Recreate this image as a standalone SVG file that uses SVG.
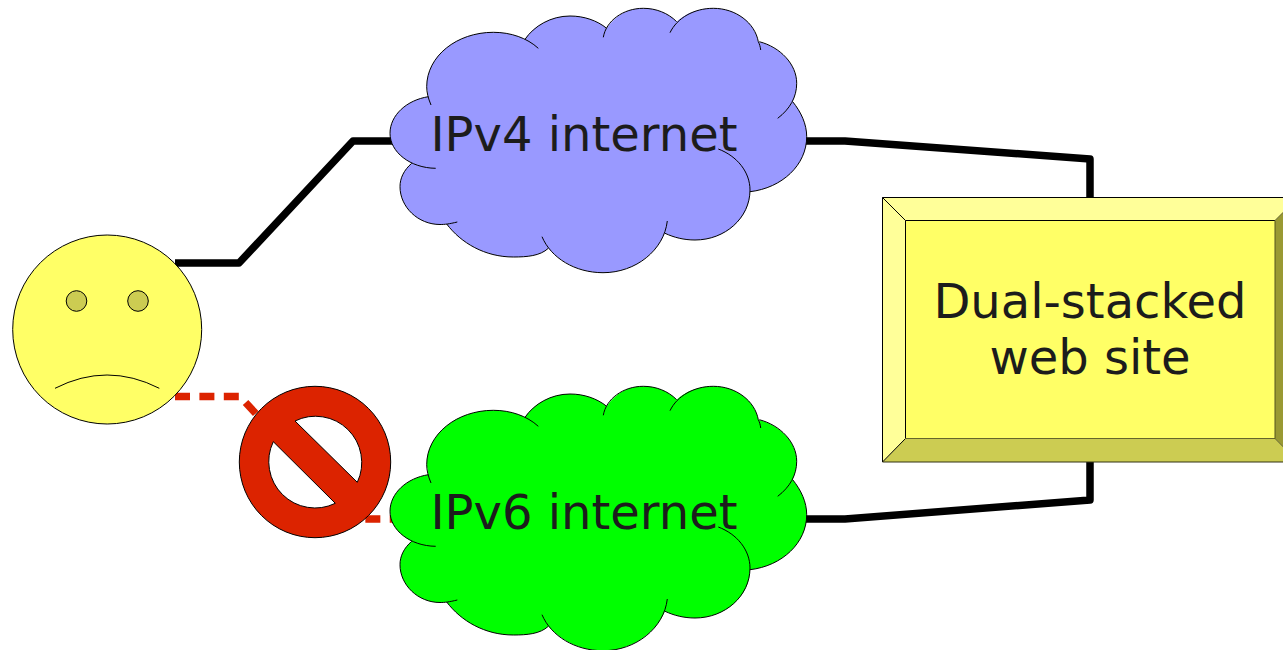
<svg xmlns="http://www.w3.org/2000/svg" width="1283" height="650" viewBox="0 0 1283 650">
<style>
text{font-family:"DejaVu Sans",sans-serif;font-size:48px;fill:#1c1c1c;text-anchor:middle}
.ln{fill:none;stroke-width:7.5;stroke-linejoin:round}
.o{stroke:#000;stroke-width:1}
.co{fill:none;stroke:#000;stroke-width:1}
.e{fill:none;stroke-width:1}
</style>
<defs>
<path id="cf" d="M426.7,86.7C426.7,56 457,32.3 493.3,32.3C505,32.3 516,35 525,39.3C534,26 551,16 570,16C584,16 597,20.5 606.7,28.3C616,15 628,8.3 643.3,8.3C656,8.3 668,13 676.7,21.7C686,13 699,8.3 713.3,8.3C736,8.3 755,23 758.3,41.7C780,47 796.7,64 796.7,83.3C796.7,90 795,96 792.7,101.7C801,112 806.7,124 806.7,136.7C806.7,165 782,188 750,191.7C750,218 725,240 695,240C684,240 674,237.5 665,233.3C655,256 631,272.7 603,272.7C581,272.7 561,263 548.3,248.3C540,256 527,257 513.3,257C485,257 461,243 446.7,224C443,224.5 442,224.5 440,224.5C418,224.5 400,207 400,186.7C400,178 404,170 411.7,163.3C398,156 390,146 390,133.3C390,115 407,100 428.3,96.7Z"/>
<path id="cs" d="M428.3,96.7C407,100 390,115 390,133.3C390,152 410,168 435.7,168.3M431,105C428,98 426.7,92 426.7,86.7C426.7,56 457,32.3 493.3,32.3C511,32.3 527,38 538.3,48.3M525,39.3C534,26 551,16 570,16C584,16 597,20.5 606.7,28.3M603.3,37.3C606,21 623,8.3 643.3,8.3C656,8.3 668,13 676.7,21.7M670,32.7C677,18 694,8.3 713.3,8.3C736,8.3 755,23 758.3,41.7C759.5,44 760.4,47 760.7,50M759.3,41.7C780,47 796.7,64 796.7,83.3C796.7,97 790,109 777.7,118.3M792.7,101.7C801,112 806.7,124 806.7,136.7C806.7,165 782,188 750,191.7M718.3,149C737,156 750,172 750,190C750,218 725,240 695,240C684,240 674,237.5 665,233.3M667.3,221C664,250 636,272.7 603,272.7C575,272.7 551,258 542,236.7M548.3,248.3C540,256 527,257 513.3,257C485,257 461,243 446.7,224M457.3,222C449,224 445,224.5 440,224.5C418,224.5 400,207 400,186.7C400,178 404,170 411.7,163.3"/>
</defs>
<rect width="1283" height="650" fill="#fff"/>
<g id="connectors">
<path class="ln" stroke="#000" d="M175,263H239L353,141H392"/>
<path class="ln" stroke="#000" d="M805,141H845L1090,159V198"/>
<path class="ln" stroke="#000" d="M805,519H845L1090,500V461"/>
<path class="ln" stroke="#dc2300" stroke-dasharray="15 9.4" d="M175,396.5H240L353,519H392"/>
</g>
<g id="user">
<circle class="o" cx="107.2" cy="329.5" r="94.5" fill="#ffff66"/>
<circle class="o" cx="76.5" cy="301" r="10.3" fill="#cccc52"/>
<circle class="o" cx="138" cy="301" r="10.3" fill="#cccc52"/>
<path class="co" d="M55,388.3Q107,361.7 159.3,388.3"/>
</g>
<g id="blocked">
<circle class="o" cx="315" cy="462" r="75.7" fill="#dc2300"/>
<path class="o" fill="#fff" d="M295,421A46.3,46.3 0 0 1 357.3,482.3ZM273.3,441.7A46.3,46.3 0 0 0 335.3,503.3Z"/>
</g>
<g id="ipv4">
<use href="#cf" fill="#9999ff"/><use href="#cs" class="co"/>
<text x="584" y="151">IPv4 internet</text>
</g>
<g id="ipv6">
<use href="#cf" y="378" fill="#00ff00"/><use href="#cs" y="378" class="co"/>
<text x="584" y="529">IPv6 internet</text>
</g>
<g id="site">
<path fill="#ffff99" d="M882.5,197.5H1298L1275,220.5H905.5Z"/>
<path fill="#ffff99" d="M882.5,197.5L905.5,220.5V438.5L882.5,462Z"/>
<path fill="#cccc52" d="M882.5,462L905.5,438.5H1275L1298,462Z"/>
<path fill="#999933" d="M1298,197.5L1275,220.5V438.5L1298,462Z"/>
<rect x="905.5" y="220.5" width="369.5" height="218" fill="#ffff66"/>
<path class="e" stroke="#000" d="M882.5,462V197.5H1298M905.5,438.5V220.5H1275M882.5,197.5L905.5,220.5M882.5,462L905.5,438.5"/>
<path class="e" stroke="#66662a" d="M905.5,438.5H1275M1275,438.5L1298,462M1275,220.5L1298,197.5"/>
<path class="e" stroke="#55551e" d="M1275,220.5V438.5"/>
<path class="e" stroke="#333315" d="M882.5,462H1298"/>
<text x="1090" y="318">Dual-stacked</text>
<text x="1090" y="374">web site</text>
</g>
</svg>
